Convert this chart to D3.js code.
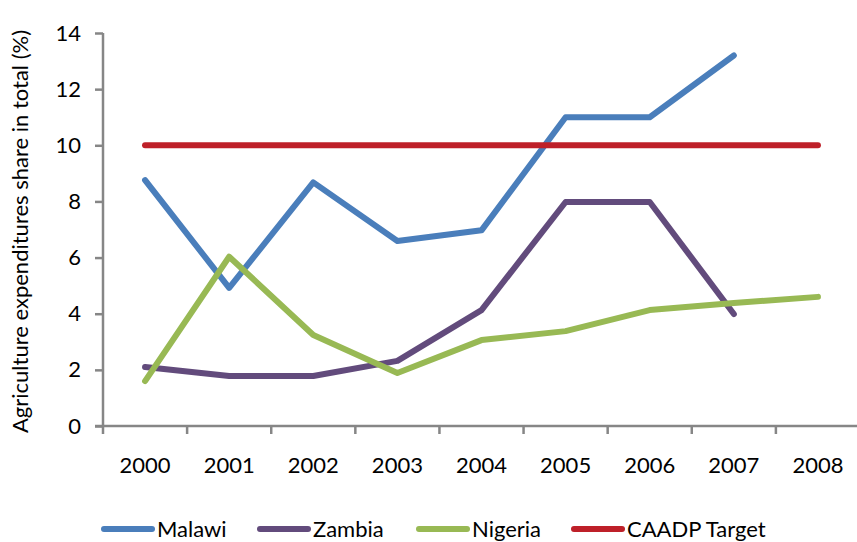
<!DOCTYPE html>
<html>
<head>
<meta charset="utf-8">
<script src="https://cdn.jsdelivr.net/npm/d3@7"></script>
<style>
  body { margin: 0; background: #fff; }
  svg text { font-family: Lato, "Open Sans", sans-serif; fill: #000; }
</style>
</head>
<body>
<script>
// chart data
var years = ["2000", "2001", "2002", "2003", "2004", "2005", "2006", "2007", "2008"];
var malawi  = [8.76, 4.92, 8.68, 6.59, 6.97, 11.0, 11.0, 13.2, null];
var zambia  = [2.1, 1.78, 1.78, 2.32, 4.13, 7.98, 7.98, 3.99, null];
var nigeria = [1.6, 6.03, 3.24, 1.89, 3.06, 3.38, 4.13, 4.38, 4.6];
var caadp   = [10, 10, 10, 10, 10, 10, 10, 10, 10];
var yTicks = [0, 2, 4, 6, 8, 10, 12, 14];

var seriesNames = ["Malawi", "Zambia", "Nigeria", "CAADP Target"];
var seriesValues = [malawi, zambia, nigeria, caadp];
var colors = ["#4a7ebb", "#624b7c", "#98b954", "#be2029"];

var width = 857, height = 542;
var margin = {top: 33, right: -3, bottom: 116, left: 103};

var svg = d3.select("body").append("svg")
    .attr("width", width)
    .attr("height", height);

var x = d3.scaleBand()
    .domain(years)
    .range([margin.left, width - margin.right]);

var y = d3.scaleLinear()
    .domain([0, 14])
    .range([height - margin.bottom, margin.top]);

var axisColor = "#868686";

// y axis
var yAxis = svg.append("g")
    .attr("transform", "translate(" + margin.left + ",0)")
    .call(d3.axisLeft(y).tickValues(yTicks).tickSize(8).tickPadding(14));
yAxis.select(".domain").attr("stroke", axisColor).attr("stroke-width", 2.5)
    .attr("d", "M0," + y(0) + "V" + y(14));
yAxis.selectAll(".tick line").attr("stroke", axisColor).attr("stroke-width", 2.5);
yAxis.selectAll(".tick text").style("font-size", "22px");

// x axis
var xAxis = svg.append("g")
    .attr("transform", "translate(0," + y(0) + ")")
    .call(d3.axisBottom(x).tickSize(0).tickPadding(31));
xAxis.select(".domain").attr("stroke", axisColor).attr("stroke-width", 2.5)
    .attr("d", "M" + (margin.left - 8) + ",0H" + width);
xAxis.selectAll(".tick line").remove();
xAxis.selectAll(".tick text").style("font-size", "22px");

// x tick marks at band edges
svg.append("g").selectAll("line")
    .data(years)
    .enter().append("line")
    .attr("x1", function(d) { return x(d); })
    .attr("x2", function(d) { return x(d); })
    .attr("y1", y(0))
    .attr("y2", y(0) + 8)
    .attr("stroke", axisColor)
    .attr("stroke-width", 2.5);

// y axis title
svg.append("text")
    .attr("transform", "translate(28," + (y(7) + 2) + ") rotate(-90)")
    .attr("text-anchor", "middle")
    .style("font-size", "22px")
    .text("Agriculture expenditures share in total (%)");

// lines
var line = d3.line()
    .defined(function(d) { return d != null; })
    .x(function(d, i) { return x(years[i]) + x.bandwidth() / 2; })
    .y(function(d) { return y(d); });

svg.append("g").selectAll("path")
    .data(seriesValues)
    .enter().append("path")
    .attr("d", line)
    .attr("fill", "none")
    .attr("stroke", function(d, i) { return colors[i]; })
    .attr("stroke-width", 6)
    .attr("stroke-linecap", "round")
    .attr("stroke-linejoin", "round");

// legend
var legendX = [104, 260, 419, 574];
var legend = svg.append("g").selectAll("g")
    .data(seriesNames)
    .enter().append("g")
    .attr("transform", function(d, i) { return "translate(" + legendX[i] + ",529)"; });

legend.append("line")
    .attr("x1", 0).attr("x2", 48)
    .attr("stroke", function(d, i) { return colors[i]; })
    .attr("stroke-width", 6)
    .attr("stroke-linecap", "round");

legend.append("text")
    .attr("x", 53)
    .attr("dy", "0.35em")
    .style("font-size", "22px")
    .text(function(d) { return d; });
</script>
</body>
</html>
